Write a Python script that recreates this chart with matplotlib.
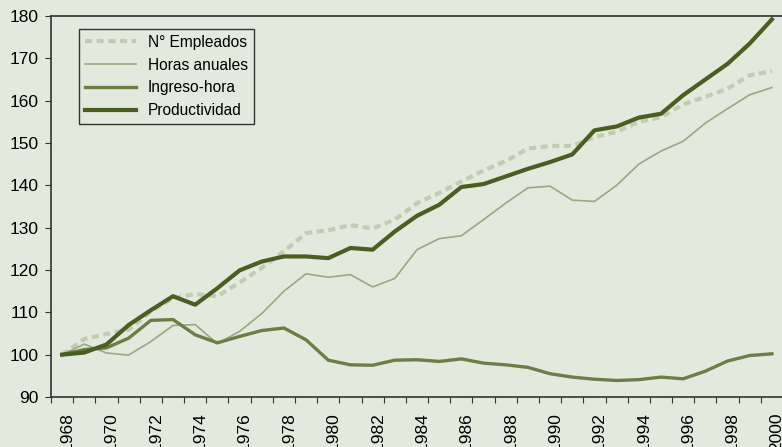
import matplotlib
matplotlib.use("Agg")
import matplotlib.pyplot as plt
import matplotlib.transforms as mtransforms

# ---- data (index 1968 = 100) ----
years = list(range(1968, 2001))

empleados = [100, 103.7, 104.9, 105.9, 110.2, 113.4, 114.3, 113.8, 117, 120.5, 124.4,
             128.7, 129.4, 130.6, 129.8, 131.9, 135.8, 138.2, 140.9, 143.5, 145.7,
             148.7, 149.3, 149.3, 151.4, 152.6, 155, 156.1, 159.1, 160.9, 162.8, 166, 167]

horas = [100, 102.5, 100.4, 99.9, 103.1, 106.9, 107.1, 102.6, 105.5, 109.7, 115.0,
         119.1, 118.3, 118.9, 116, 118, 124.8, 127.4, 128.1, 131.9, 135.8,
         139.4, 139.8, 136.5, 136.2, 140, 145, 148.1, 150.4, 154.7, 158.1, 161.4, 163.1]

ingreso = [100, 101.2, 101.6, 103.9, 108.1, 108.3, 104.7, 102.8, 104.3, 105.7, 106.3,
           103.5, 98.7, 97.6, 97.5, 98.7, 98.8, 98.4, 99, 98, 97.6,
           97, 95.5, 94.7, 94.2, 93.9, 94.1, 94.7, 94.3, 96.1, 98.5, 99.8, 100.2]

productividad = [100, 100.5, 102.4, 107, 110.5, 113.8, 111.8, 115.7, 119.9, 122, 123.2,
                 123.2, 122.8, 125.2, 124.8, 129.1, 132.8, 135.4, 139.6, 140.3, 142.1,
                 143.9, 145.5, 147.3, 153, 153.9, 156, 156.9, 161.3, 165, 168.7, 173.5, 179.2]

series_labels = ["N\u00b0 Empleados", "Horas anuales", "Ingreso-hora", "Productividad"]

# ---- style ----
plt.rcParams["font.family"] = ["Liberation Sans", "DejaVu Sans"]
bg = "#e4e9de"
c_emp = "#c3cbb2"
c_hor = "#9aa882"
c_ing = "#6b7e46"
c_pro = "#4a5e22"
spine_col = "#333333"

fig = plt.figure(figsize=(7.82, 4.47), dpi=100, facecolor=bg)
ax = fig.add_axes([51 / 782, 50 / 447, 732 / 782, 381 / 447], facecolor=bg)

x = list(range(len(years)))
ax.plot(x, empleados, color=c_emp, lw=3.0, dashes=(1.7, 1.1), label=series_labels[0])
ax.plot(x, horas, color=c_hor, lw=1.2, label=series_labels[1])
ax.plot(x, ingreso, color=c_ing, lw=2.4, label=series_labels[2])
ax.plot(x, productividad, color=c_pro, lw=3.0, label=series_labels[3])

ax.set_xlim(-0.5, len(years) - 0.5)
ax.set_ylim(90, 180)
ax.set_yticks(range(90, 181, 10))

# category axis: ticks at boundaries, labels every two years
ax.set_xticks([i - 0.5 for i in range(len(years) + 1)], minor=True)
even = [i for i, y in enumerate(years) if y % 2 == 0]
ax.set_xticks(even)
ax.set_xticklabels([str(years[i]) for i in even], rotation=90, va="top", ha="center")
ax.tick_params(axis="x", which="major", length=0, pad=11, labelsize=12.5)
ax.tick_params(axis="x", which="minor", length=4, width=0.8, color=spine_col, direction="out")
ax.tick_params(axis="y", length=4, width=0.8, color=spine_col, pad=5, labelsize=12.5)

offset = mtransforms.ScaledTranslation(5 / 100, 0, fig.dpi_scale_trans)
for lab in ax.get_xticklabels():
    lab.set_transform(lab.get_transform() + offset)

for s in ax.spines.values():
    s.set_color(spine_col)
    s.set_linewidth(1.2)

leg = ax.legend(loc="upper left", bbox_to_anchor=(0.038, 0.967), fontsize=11.2,
                frameon=True, fancybox=False, handlelength=3.3, handletextpad=0.75,
                labelspacing=0.5, borderpad=0.4, borderaxespad=0)
leg.get_frame().set_facecolor(bg)
leg.get_frame().set_edgecolor(spine_col)
leg.get_frame().set_linewidth(1.0)
leg.get_frame().set_alpha(1)

fig.savefig("out.png", dpi=100, facecolor=bg)
